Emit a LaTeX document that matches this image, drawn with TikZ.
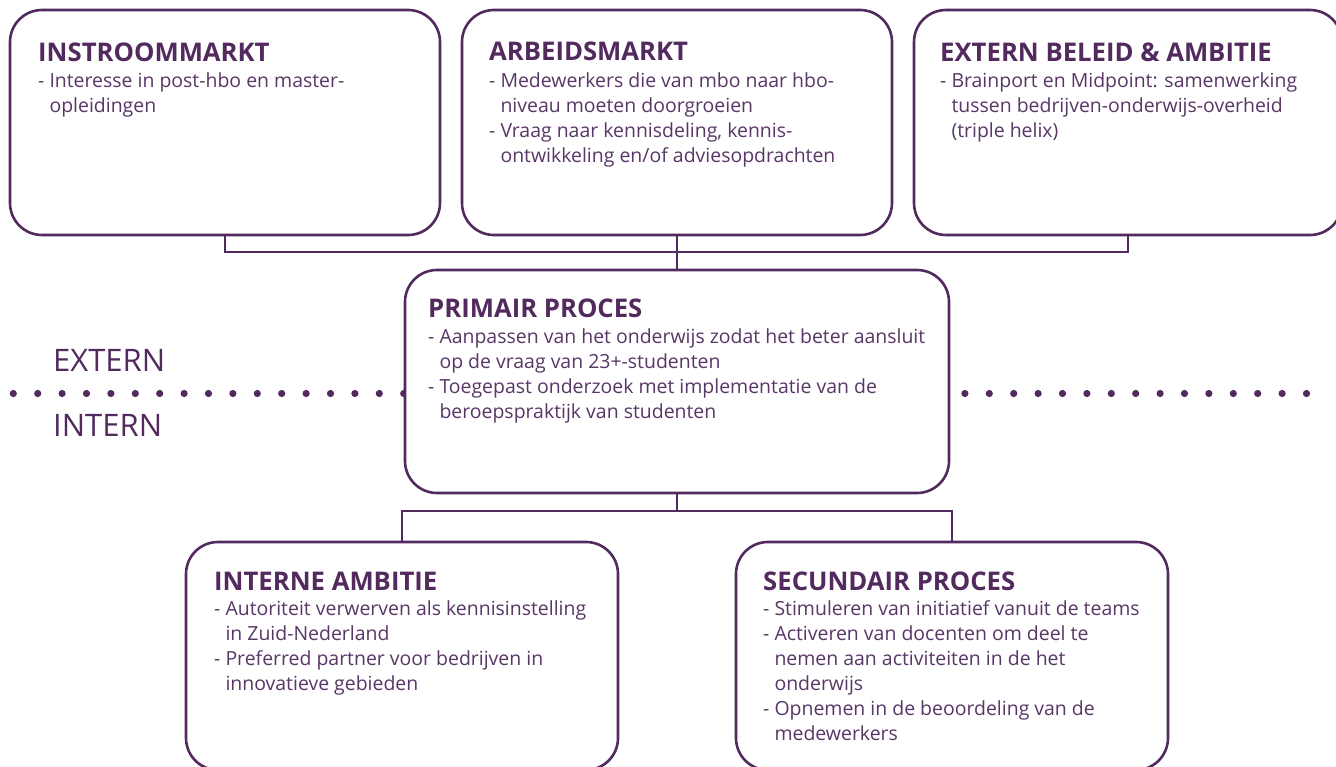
\documentclass[tikz,border=0pt]{standalone}
\usepackage{fontspec}
\setmainfont{Open Sans}
\definecolor{plum}{HTML}{522A5E}
\definecolor{plumtext}{HTML}{583766}
\newcommand\hangpad{\hphantom{- }}
\tikzset{
  box/.style={draw=plum, line width=2.6pt, rounded corners=32pt, fill=white, inner sep=0pt},
  conn/.style={draw=plum, line width=2.4pt, line join=miter},
  titletext/.style={anchor=base west, inner sep=0pt, text=plum, font=\fontsize{25.7}{30}\selectfont\bfseries},
  bodytext/.style={anchor=north west, inner sep=0pt, align=left, text=plumtext, font=\fontsize{19.45}{25}\selectfont},
  sidetext/.style={anchor=base west, inner sep=0pt, text=plum, font=\fontsize{31}{36}\selectfont},
  dotc/.style={fill=plum}
}
\begin{document}
\begin{tikzpicture}[x=1pt,y=-1pt]
\useasboundingbox (0,0) rectangle (1336,767);

% dotted separator
\foreach \i in {0,...,53} \fill[dotc] ({13.3+\i*24.4},393.5) circle (3.6);

% boxes
\node[box, minimum width=430pt, minimum height=225pt] (b1) at (225,122.5) {};
\node[box, minimum width=430pt, minimum height=225pt] (b2) at (677,122.5) {};
\node[box, minimum width=428pt, minimum height=225pt] (b3) at (1128,122.5) {};
\node[box, minimum width=544pt, minimum height=223pt] (p) at (677,381.5) {};
\node[box, minimum width=432pt, minimum height=228pt] (l) at (402,656) {};
\node[box, minimum width=432pt, minimum height=228pt] (r) at (952,656) {};

% connectors
\coordinate (jt) at (677,252);
\coordinate (jb) at (677,511);
\draw[conn] (b1.south) -- (b1.south |- jt) -- (b3.south |- jt) -- (b3.south);
\draw[conn] (b2.south) -- (p.north);
\draw[conn] (p.south) -- (jb);
\draw[conn] (l.north) -- (l.north |- jb) -- (r.north |- jb) -- (r.north);

% side labels
\node[sidetext] (ext) at (53,371.5) {EXTERN};
\node[sidetext] (int) at (53,436.5) {INTERN};

% texts
\node[titletext] (t1) at (38,62) {INSTROOMMARKT};
\node[bodytext] (x1) at (38,69.5) {\strut- Interesse in post-hbo en master-\\\hangpad opleidingen};

\node[titletext] (t2) at (489,61) {ARBEIDSMARKT};
\node[bodytext] (x2) at (489,69.5) {\strut- Medewerkers die van mbo naar hbo-\\\hangpad niveau moeten doorgroeien\\- Vraag naar kennisdeling, kennis-\\\hangpad ontwikkeling en/of adviesopdrachten};

\node[titletext] (t3) at (940,62) {EXTERN BELEID \& AMBITIE};
\node[bodytext] (x3) at (940,69.5) {\strut- Brainport en Midpoint: samenwerking\\\hangpad tussen bedrijven-onderwijs-overheid\\\hangpad (triple helix)};

\node[titletext] (tp) at (428,317) {PRIMAIR PROCES};
\node[bodytext] (xp) at (428,325.5) {\strut- Aanpassen van het onderwijs zodat het beter aansluit\\\hangpad op de vraag van 23+-studenten\\- Toegepast onderzoek met implementatie van de\\\hangpad beroepspraktijk van studenten};

\node[titletext] (tl) at (214,590) {INTERNE AMBITIE};
\node[bodytext] (xl) at (214,597.5) {\strut- Autoriteit verwerven als kennisinstelling\\\hangpad in Zuid-Nederland\\- Preferred partner voor bedrijven in\\\hangpad innovatieve gebieden};

\node[titletext] (tr) at (763,590) {SECUNDAIR PROCES};
\node[bodytext] (xr) at (763,597.5) {\strut- Stimuleren van initiatief vanuit de teams\\- Activeren van docenten om deel te\\\hangpad nemen aan activiteiten in de het\\\hangpad onderwijs\\- Opnemen in de beoordeling van de\\\hangpad medewerkers};
\end{tikzpicture}
\end{document}
